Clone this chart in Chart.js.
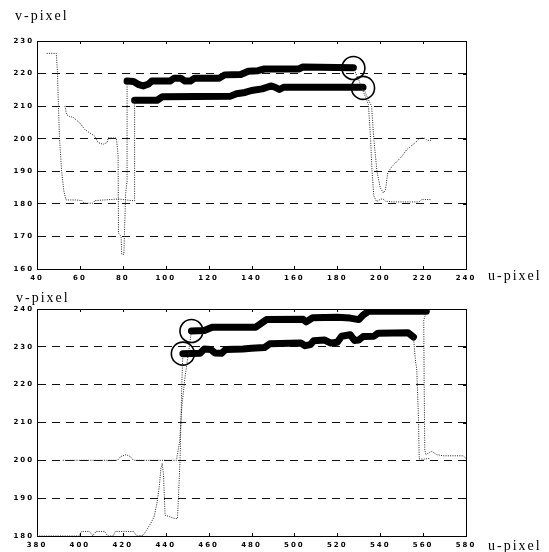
<!DOCTYPE html>
<html>
<head>
<meta charset="utf-8">
<script src="https://cdn.jsdelivr.net/npm/chart.js@4.4.0/dist/chart.umd.min.js"></script>
<style>
    body { margin: 0; background: #fff; width: 549px; height: 552px; position: relative; overflow: hidden; }
    .wrap { position: absolute; left: 0; width: 549px; }
    .lbl { position: absolute; font-family: 'Liberation Serif', serif; font-size: 14px; line-height: 14px; letter-spacing: 2px; color: #000; white-space: nowrap; }
</style>
</head>
<body>
<div class="wrap" style="top:0;height:290px"><canvas id="topChart" width="549" height="290"></canvas></div>
<div class="wrap" style="top:290px;height:262px"><canvas id="bottomChart" width="549" height="262"></canvas></div>
<div class="lbl" style="left:15px;top:9px">v-pixel</div>
<div class="lbl" style="left:488px;top:269px">u-pixel</div>
<div class="lbl" style="left:16px;top:291px">v-pixel</div>
<div class="lbl" style="left:488px;top:539px">u-pixel</div>
<script>
// ---- upper plot (u 40..240, v 160..230) ----
const topU = [40, 240];
const topV = [160, 230];

// thick track, upper
const topTrackAU = [82, 85, 87.5, 89.5, 92, 93.5, 102, 104, 107, 109, 111.5, 113.5, 125, 127.5, 135, 138.5, 143, 146, 162, 164, 187.5];
const topTrackAV = [217.7, 217.6, 216.6, 216.2, 216.8, 217.7, 217.7, 218.6, 218.6, 217.7, 217.7, 218.6, 218.6, 219.6, 219.7, 220.7, 220.9, 221.4, 221.4, 222, 221.8];
// thick track, lower
const topTrackBU = [85.5, 96, 98.5, 130, 133, 137, 140, 145, 149, 151, 153, 155, 192];
const topTrackBV = [211.8, 211.8, 212.9, 213, 213.8, 214.2, 214.8, 215.3, 216.2, 215.8, 215.1, 215.8, 215.8];

// dotted candidate traces
const topDotAU = [44.5, 49, 49.5, 50, 50.5, 51.5, 52.5, 53.5, 58, 61, 62, 66, 67, 78, 84, 85.5, 85.5];
const topDotAV = [226.2, 226.2, 221, 210, 200, 190, 184, 181.2, 181.2, 181, 180.2, 180.2, 181, 181.5, 181, 181, 211.8];
const topDotBU = [53, 53.8, 55, 57, 60, 62.3, 64.6, 66.9, 68.5, 70.8, 72.7, 73.2, 77, 77.8, 78, 79.2, 79.5, 80.5, 81, 81.3, 82, 82];
const topDotBV = [210, 207.4, 206.9, 206.5, 204.8, 202.8, 201.8, 200.8, 198.8, 198.3, 198.8, 200.3, 200.2, 195, 171, 170, 164.5, 164.5, 176, 183, 187, 217.7];
const topDotCU = [187.5, 190, 193, 194.5, 195.5, 196.2, 197, 198.3, 199.8, 201.2, 202.5, 206, 218, 219.5, 224];
const topDotCV = [221.8, 218, 213, 210.5, 200, 190, 182.5, 180.7, 181.3, 181.6, 180.8, 180.6, 180.6, 181.4, 181.3];
const topDotDU = [192, 194.5, 196, 197, 198.5, 200, 201.5, 202.5, 203.5, 205.5, 207.8, 210, 212.3, 216, 218.6, 220.5, 222, 224];
const topDotDV = [215.8, 212, 210, 200, 190, 185, 183.3, 184.5, 189.5, 191.5, 193, 194.5, 196.6, 198.6, 200.2, 200.2, 199.5, 199.5];

// circled end points
const topRingU = [187.5, 192];
const topRingV = [221.7, 215.6];

// ---- lower plot (u 380..580, v 180..240) ----
const botU = [380, 580];
const botV = [180, 240];

const botTrackAU = [452, 458, 460, 462, 482, 484.5, 487, 504, 505.5, 508.5, 520, 526, 530, 532, 534.5, 561.5];
const botTrackAV = [234.2, 234.3, 234.8, 235.2, 235.2, 236.2, 237.2, 237.3, 236.6, 237.7, 237.8, 237.6, 237.2, 238.4, 239.4, 239.4];
const botTrackBU = [448, 456, 458, 461, 463, 466, 468, 476, 480, 486, 488.5, 503, 505, 507.5, 509, 514, 517, 520, 522, 526, 528, 530, 532, 537, 539, 553, 555.5];
const botTrackBV = [228.2, 228.3, 229.4, 229.3, 228.4, 228.3, 229.3, 229.4, 229.6, 229.8, 230.8, 231, 230.3, 230.6, 231.6, 231.8, 231, 231.2, 232.8, 233.2, 231.7, 231.8, 232.7, 232.8, 233.6, 233.7, 232.6];

const botDotEU = [380, 399.5, 400.8, 404.5, 406, 407.5, 411.5, 413, 415.5, 416.5, 425, 426.5, 429.5, 431, 433, 434.6, 435.9, 437, 437.8, 438.4, 439, 439.7, 444.3, 445.5, 446.7, 447.5, 448];
const botDotEV = [180, 180, 181.2, 181.2, 180, 181.2, 181.2, 180, 180, 181.2, 181.2, 180, 180.2, 181.5, 183.3, 185.1, 188.6, 193, 198, 199.2, 196, 185.5, 184.6, 184.6, 200, 220, 228.2];
const botDotFU = [392, 417.5, 419, 421.5, 423.5, 425, 430, 445, 446.5, 447.5, 449, 450.5, 452];
const botDotFV = [200, 200, 201, 201.5, 201, 200, 200, 200, 205, 214, 222, 228, 234.2];
const botDotGU = [555.5, 556.5, 557, 557.8, 558.2, 560, 563];
const botDotGV = [232.6, 226, 224.4, 212, 200.4, 200.3, 200.5];
const botDotHU = [561.5, 560.3, 560.5, 560.8, 561.3, 564, 566.3, 569.4, 578.7, 580];
const botDotHV = [239.4, 237, 220, 202.7, 201.5, 202.4, 201.5, 201.2, 201.2, 200.5];

const botRingU = [452, 448];
const botRingV = [234.2, 228.2];

const tickFont = { family: 'DejaVu Sans', size: 7, weight: 'bold' };

function toPoints(u, v) {
    return u.map((x, i) => ({ x: x, y: v[i] }));
}

function dotted(u, v) {
    return {
        data: toPoints(u, v),
        borderColor: '#222',
        borderWidth: 1,
        borderDash: [1, 1.3],
        pointRadius: 0,
        fill: false
    };
}

function thick(u, v) {
    return {
        data: toPoints(u, v),
        borderColor: '#000',
        borderWidth: 7,
        borderCapStyle: 'round',
        borderJoinStyle: 'round',
        pointRadius: 0,
        fill: false
    };
}

function rings(u, v) {
    return {
        data: toPoints(u, v),
        showLine: false,
        pointRadius: 11.5,
        pointBorderWidth: 1.6,
        pointBorderColor: '#000',
        pointBackgroundColor: 'rgba(0,0,0,0)'
    };
}

// spaced-out tick digits like the scan
const spacing = {
    id: 'spacing',
    beforeDraw(chart) {
        chart.ctx.letterSpacing = '2px';
    }
};

// box around plot plus small inward ticks
const frame = {
    id: 'frame',
    beforeDatasetsDraw(chart) {
        const { ctx, chartArea: a, scales } = chart;
        ctx.save();
        ctx.strokeStyle = '#000';
        ctx.lineWidth = 1;
        ctx.setLineDash([]);
        ctx.strokeRect(a.left + 0.5, a.top + 0.5, a.right - a.left, a.bottom - a.top);
        ctx.beginPath();
        scales.x.ticks.forEach(t => {
            const px = Math.round(scales.x.getPixelForValue(t.value)) + 0.5;
            ctx.moveTo(px, a.top); ctx.lineTo(px, a.top + 3);
            ctx.moveTo(px, a.bottom); ctx.lineTo(px, a.bottom - 3);
        });
        scales.y.ticks.forEach(t => {
            const py = Math.round(scales.y.getPixelForValue(t.value)) + 0.5;
            ctx.moveTo(a.right, py); ctx.lineTo(a.right - 3, py);
        });
        ctx.stroke();
        ctx.restore();
    }
};

function makeChart(id, xr, yr, padTop, xAxisH, datasets) {
    return new Chart(document.getElementById(id), {
        type: 'line',
        data: { datasets: datasets },
        options: {
            responsive: false,
            animation: false,
            layout: { padding: { left: 0, right: 83, top: padTop, bottom: 0 } },
            plugins: { legend: { display: false }, tooltip: { enabled: false } },
            scales: {
                x: {
                    type: 'linear',
                    min: xr[0],
                    max: xr[1],
                    ticks: { stepSize: 20, font: tickFont, color: '#000', padding: 5, maxRotation: 0, autoSkip: false },
                    grid: { display: false, drawTicks: false },
                    border: { display: true, color: '#000', width: 1 },
                    afterFit: s => { s.height = xAxisH; }
                },
                y: {
                    min: yr[0],
                    max: yr[1],
                    ticks: { stepSize: 10, font: tickFont, color: '#000', padding: 3 },
                    grid: { color: '#111', lineWidth: 1, drawTicks: false },
                    border: { display: true, color: '#000', dash: [8, 6] },
                    afterFit: s => { s.width = 37; }
                }
            }
        },
        plugins: [spacing, frame]
    });
}

makeChart('topChart', topU, topV, 41, 21, [
    dotted(topDotAU, topDotAV),
    dotted(topDotBU, topDotBV),
    dotted(topDotCU, topDotCV),
    dotted(topDotDU, topDotDV),
    thick(topTrackAU, topTrackAV),
    thick(topTrackBU, topTrackBV),
    rings(topRingU, topRingV)
]);

makeChart('bottomChart', botU, botV, 19, 16, [
    dotted(botDotEU, botDotEV),
    dotted(botDotFU, botDotFV),
    dotted(botDotGU, botDotGV),
    dotted(botDotHU, botDotHV),
    thick(botTrackAU, botTrackAV),
    thick(botTrackBU, botTrackBV),
    rings(botRingU, botRingV)
]);
</script>
</body>
</html>
